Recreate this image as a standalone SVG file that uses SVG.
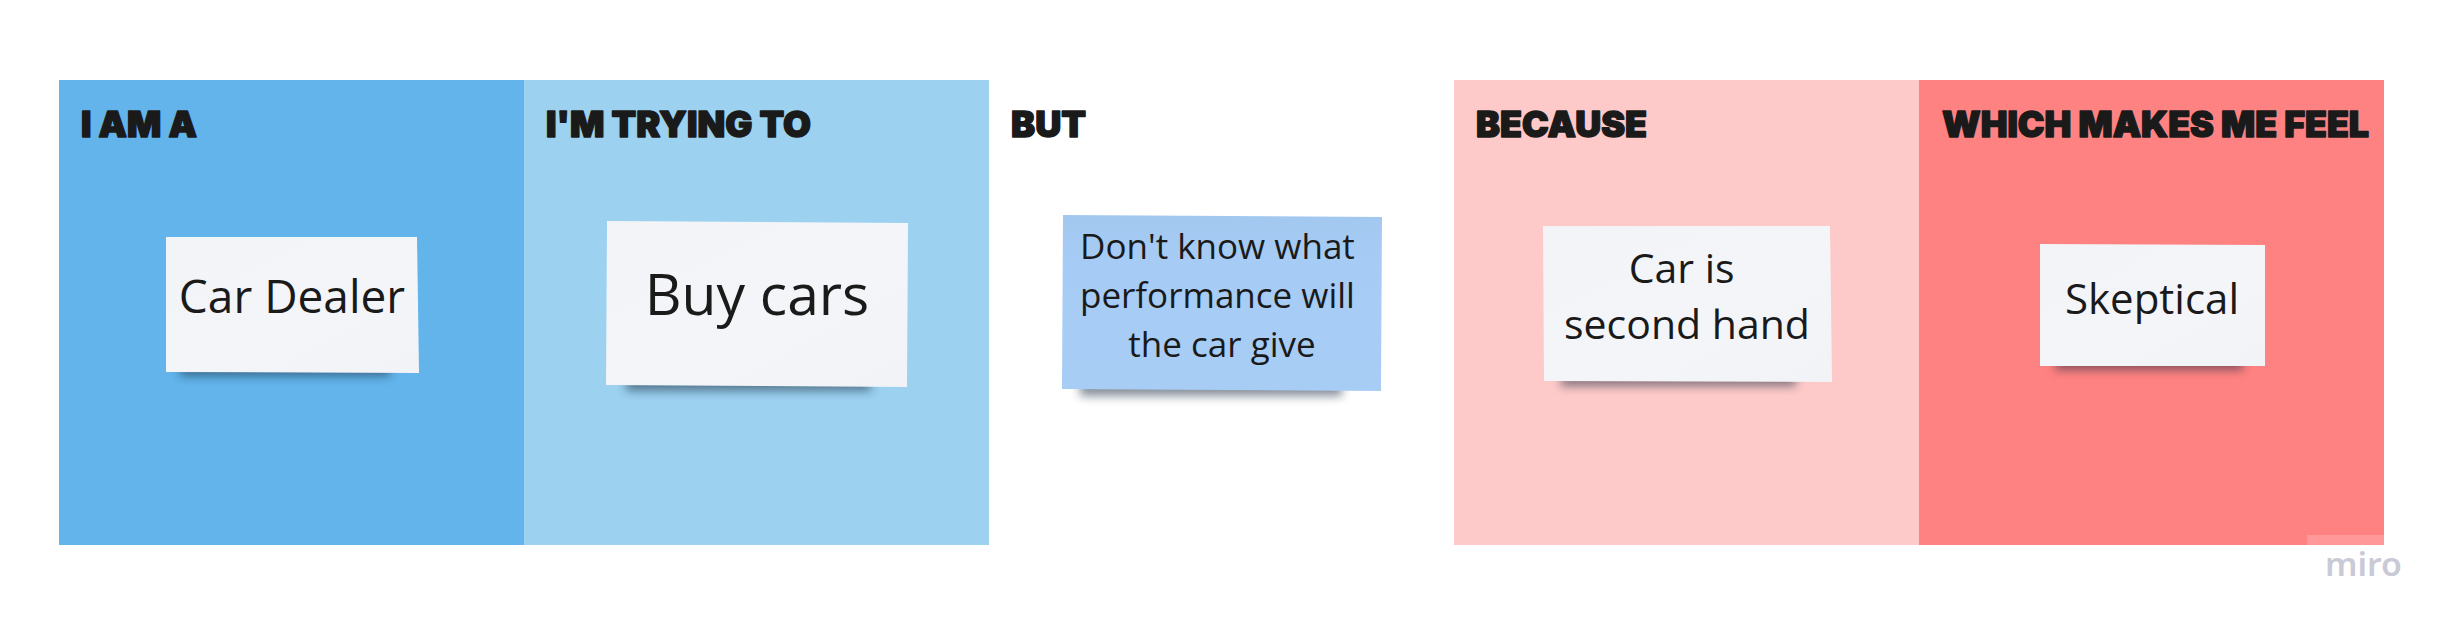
<svg xmlns="http://www.w3.org/2000/svg" width="2460" height="635" viewBox="0 0 2460 635">
  <defs>
    <style>
      .hdr { font-family: Inter, "Liberation Sans", sans-serif; font-weight: 900; font-size: 35px; fill: #1a1a1a; stroke: #1a1a1a; stroke-width: 1.4px; stroke-linejoin: round; }
      .txt { font-family: "Open Sans", "Noto Sans", sans-serif; font-weight: 400; fill: #1a1a1a; text-anchor: middle; }
      .shadow { fill: #0b2236; opacity: 0.5; filter: url(#blur); }
      .paper { fill: url(#paperGrad); }
    </style>
    <filter id="blur" x="-20%" y="-100%" width="140%" height="300%">
      <feGaussianBlur stdDeviation="5"/>
    </filter>
    <linearGradient id="paperGrad" x1="0" y1="0" x2="1" y2="1">
      <stop offset="0" stop-color="#f3f4f8"/>
      <stop offset="0.6" stop-color="#f4f5f8"/>
      <stop offset="1" stop-color="#f2f3f7"/>
    </linearGradient>
    <linearGradient id="blueGrad" x1="0" y1="0" x2="0" y2="1">
      <stop offset="0" stop-color="#a2c8f0"/>
      <stop offset="0.25" stop-color="#a6ccf5"/>
      <stop offset="1" stop-color="#a8cdf5"/>
    </linearGradient>
  </defs>

  <rect x="0" y="0" width="2460" height="635" fill="#ffffff"/>

  <g id="panel-i-am-a">
    <rect x="59" y="80" width="465" height="465" fill="#63b4ea"/>
    <text class="hdr" x="81" y="137" textLength="116" lengthAdjust="spacingAndGlyphs">I AM A</text>
  </g>
  <g id="panel-trying-to">
    <rect x="524" y="80" width="465" height="465" fill="#9cd1f0"/>
    <text class="hdr" x="546" y="137" textLength="265" lengthAdjust="spacingAndGlyphs">I'M TRYING TO</text>
  </g>
  <g id="panel-but">
    <text class="hdr" x="1011" y="137" textLength="75" lengthAdjust="spacingAndGlyphs">BUT</text>
  </g>
  <g id="panel-because">
    <rect x="1454" y="80" width="465" height="465" fill="#fdc9c9"/>
    <text class="hdr" x="1476" y="137" textLength="171" lengthAdjust="spacingAndGlyphs">BECAUSE</text>
  </g>
  <g id="panel-feel">
    <rect x="1919" y="80" width="465" height="465" fill="#ff8282"/>
    <text class="hdr" x="1942" y="137" textLength="427" lengthAdjust="spacingAndGlyphs">WHICH MAKES ME FEEL</text>
  </g>

  <g id="note-car-dealer">
    <rect class="shadow" x="180" y="362" width="210" height="14"/>
    <polygon class="paper" points="166,237 417,237 419,373 166,372"/>
    <text class="txt" x="292" y="313" font-size="46">Car Dealer</text>
  </g>

  <g id="note-buy-cars">
    <rect class="shadow" x="626" y="376" width="245" height="15"/>
    <polygon class="paper" points="607,221 908,223 907,387 606,385"/>
    <text class="txt" x="757" y="315" font-size="57">Buy cars</text>
  </g>

  <g id="note-performance">
    <rect class="shadow" x="1080" y="380" width="262" height="16"/>
    <polygon fill="url(#blueGrad)" points="1063,215 1382,217 1381,391 1062,389"/>
    <text class="txt" font-size="35">
      <tspan x="1222" y="259">Don't know what</tspan>
      <tspan x="1222" y="308">performance will</tspan>
      <tspan x="1222" y="357">the car give</tspan>
    </text>
  </g>

  <g id="note-second-hand">
    <rect class="shadow" x="1561" y="372" width="235" height="14"/>
    <polygon class="paper" points="1543,226 1830,226 1832,382 1544,381"/>
    <text class="txt" font-size="41">
      <tspan x="1687" y="283">Car is</tspan>
      <tspan x="1687" y="339">second hand</tspan>
    </text>
  </g>

  <g id="note-skeptical">
    <rect class="shadow" x="2055" y="357" width="188" height="13"/>
    <polygon class="paper" points="2040,244 2265,245 2265,366 2040,366"/>
    <text class="txt" x="2152" y="314" font-size="42">Skeptical</text>
  </g>

  <g id="watermark">
    <rect x="2307" y="535" width="77" height="10" fill="#ffffff" opacity="0.18"/>
    <text x="2325" y="576" font-family="'Noto Sans', 'Open Sans', sans-serif" font-weight="600" font-size="32" fill="#cacad6" textLength="77" lengthAdjust="spacingAndGlyphs">miro</text>
  </g>
</svg>
